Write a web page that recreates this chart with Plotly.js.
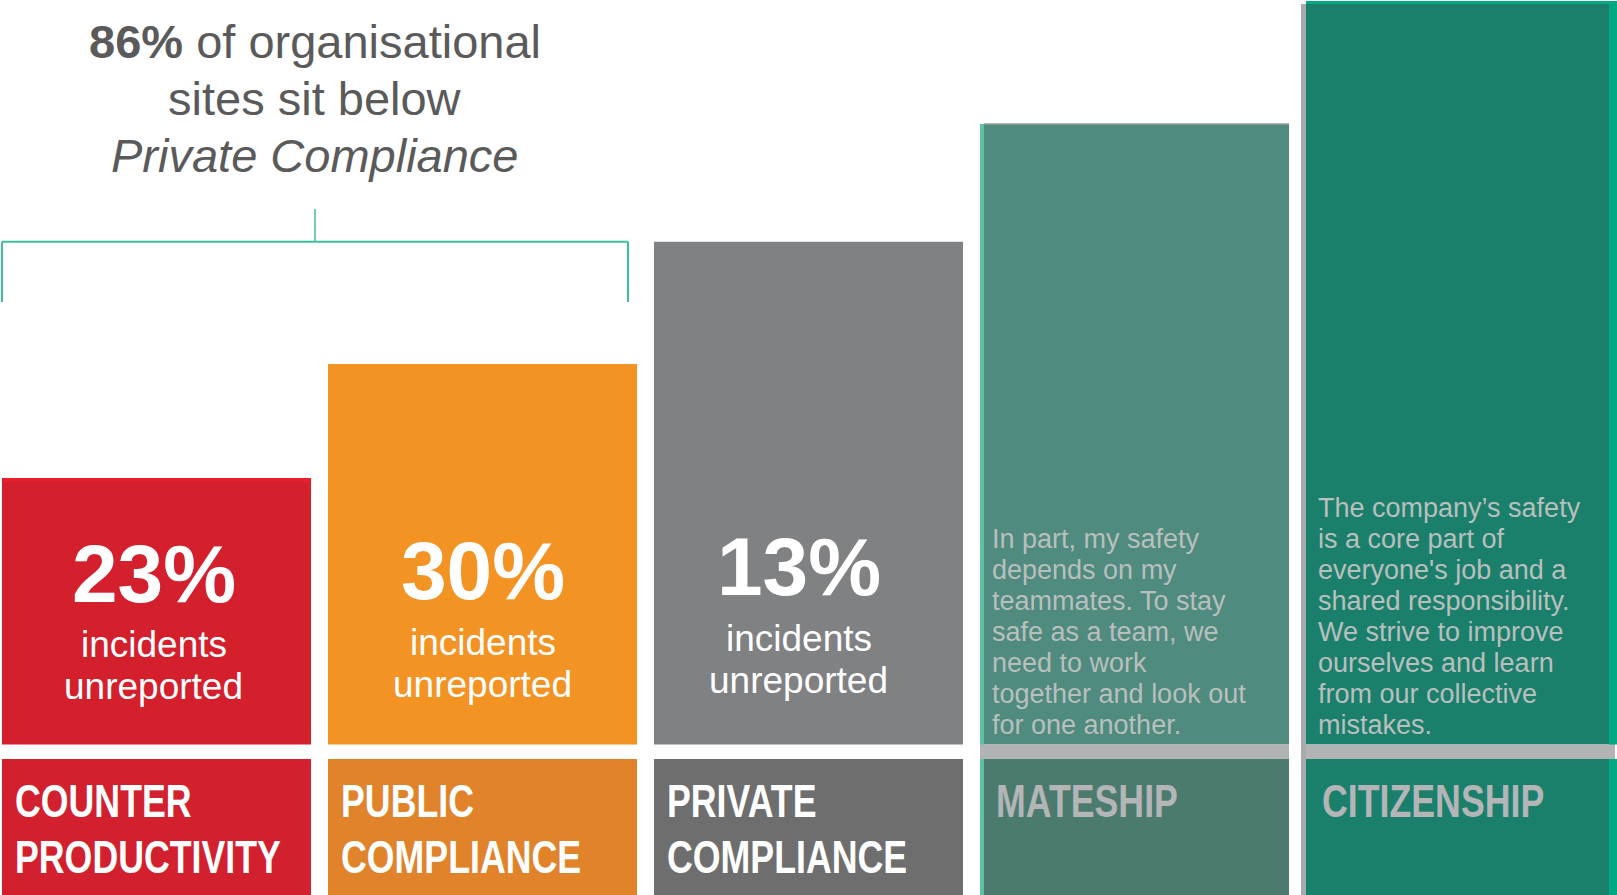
<!DOCTYPE html>
<html>
<head>
<meta charset="utf-8">
<script src="https://cdn.plot.ly/plotly-3.0.1.min.js"></script>
<style>
  html, body { margin: 0; padding: 0; background: #ffffff; }
  #chart { width: 1617px; height: 895px; }
</style>
</head>
<body>
<div id="chart"></div>
<script>
// ---------------- DATA ----------------
const CATEGORIES = ['COUNTER PRODUCTIVITY', 'PUBLIC COMPLIANCE', 'PRIVATE COMPLIANCE', 'MATESHIP', 'CITIZENSHIP'];
const LABEL_LINES = [['COUNTER', 'PRODUCTIVITY'], ['PUBLIC', 'COMPLIANCE'], ['PRIVATE', 'COMPLIANCE'], ['MATESHIP'], ['CITIZENSHIP']];
const LEVEL_HEIGHTS = [36.0, 51.4, 67.9, 83.8, 100];
const UNREPORTED_PCT = [23, 30, 13, null, null];
const UNREPORTED_CAPTION = ['incidents', 'unreported'];
const MATESHIP_TEXT = ['In part, my safety', 'depends on my', 'teammates. To stay', 'safe as a team, we', 'need to work', 'together and look out', 'for one another.'];
const CITIZENSHIP_TEXT = ['The company\u2019s safety', 'is a core part of', "everyone's job and a", 'shared responsibility.', 'We strive to improve', 'ourselves and learn', 'from our collective', 'mistakes.'];
const HEADLINE_PCT = 86;
const HEADLINE_LINES = [' of organisational', 'sites sit below', 'Private Compliance'];

// ---------------- STYLE ----------------
const TOP_COLORS = ['#d41f2d', '#f39323', '#7f8183', '#4f8b7e', '#1b806b'];
const LABEL_COLORS = ['#d2202e', '#e0832a', '#6e6e6e', '#4a7b6e', '#1b806b'];
const LABEL_TEXT_COLORS = ['#ffffff', '#ffffff', '#ffffff', '#b3b5b6', '#b3b5b6'];
const BAND_COLOR = '#b1b3b4';
const TEAL = '#3dbf9f';
const FONT = 'Liberation Sans, Arial, Helvetica, sans-serif';
const CONDENSE = 0.76;

const W = 1617, H = 895;
const PX_PER_X = 326, X0_PX = 156.5;        // category spacing
const PX_PER_Y = 7.406, Y0_PX = 744.6;      // value scale
const xAt = px => (px - X0_PX) / PX_PER_X;
const yAt = px => (Y0_PX - px) / PX_PER_Y;
const BAR_W = 0.948;
const HALF = BAR_W / 2;
const LABEL_TOP = yAt(759);
const LABEL_BOTTOM = yAt(H + 20);

const traces = [
  { type: 'bar', x: CATEGORIES, y: LEVEL_HEIGHTS, base: 0, width: BAR_W,
    marker: { color: TOP_COLORS, line: { width: 0 } }, hoverinfo: 'skip' },
  { type: 'bar', x: CATEGORIES.slice(3), y: CATEGORIES.slice(3).map(() => LABEL_TOP), base: 0, width: BAR_W,
    marker: { color: BAND_COLOR, line: { width: 0 } }, hoverinfo: 'skip' },
  { type: 'bar', x: CATEGORIES, y: CATEGORIES.map(() => LABEL_BOTTOM - LABEL_TOP), base: LABEL_TOP, width: BAR_W,
    marker: { color: LABEL_COLORS, line: { width: 0 } }, hoverinfo: 'skip' }
];

const ann = [];
// headline
ann.push({ x: xAt(315), y: yAt(41.5), xref: 'x', yref: 'y', showarrow: false, xanchor: 'center', yanchor: 'middle',
  text: '<b>' + HEADLINE_PCT + '%</b>' + HEADLINE_LINES[0], font: { family: FONT, size: 47, color: '#5a5a5a' } });
ann.push({ x: xAt(315), y: yAt(98.5), xref: 'x', yref: 'y', showarrow: false, xanchor: 'center', yanchor: 'middle',
  text: HEADLINE_LINES[1], font: { family: FONT, size: 47, color: '#5a5a5a' } });
ann.push({ x: xAt(315), y: yAt(155.5), xref: 'x', yref: 'y', showarrow: false, xanchor: 'center', yanchor: 'middle',
  text: '<i>' + HEADLINE_LINES[2] + '</i>', font: { family: FONT, size: 47, color: '#5a5a5a' } });

// percentages
const PCT_Y = [573, 570, 566];
const CAP_Y = [[644, 686], [642, 684], [638, 680]];
const TEXT_SHIFT = [-3, 0, -10];
UNREPORTED_PCT.forEach((v, i) => {
  if (v === null) return;
  ann.push({ x: i, y: yAt(PCT_Y[i]), xref: 'x', yref: 'y', showarrow: false, xanchor: 'center', yanchor: 'middle', xshift: TEXT_SHIFT[i],
    text: v + '%', font: { family: FONT, size: 82, color: '#ffffff', weight: 700 } });
  UNREPORTED_CAPTION.forEach((t, j) => {
    ann.push({ x: i, y: yAt(CAP_Y[i][j]), xref: 'x', yref: 'y', showarrow: false, xanchor: 'center', yanchor: 'middle', xshift: TEXT_SHIFT[i],
      text: t, font: { family: FONT, size: 37, color: '#ffffff' } });
  });
});

// bottom labels (condensed after render)
const LABEL_Y = [800.5, 856];
const CONDENSED_IDX = [];
LABEL_LINES.forEach((lines, i) => {
  lines.forEach((t, j) => {
    CONDENSED_IDX.push(ann.length);
    ann.push({ x: i - HALF + 11 / PX_PER_X + (i >= 3 ? 3 / PX_PER_X : 0), y: yAt(LABEL_Y[j]), xref: 'x', yref: 'y', showarrow: false,
      xanchor: 'left', yanchor: 'middle', align: 'left', text: t,
      font: { family: FONT, size: 47, color: LABEL_TEXT_COLORS[i], weight: 700 } });
  });
});

// descriptions
const PARA_COLOR = '#b9bfbd';
const MATE_Y0 = 539, CIT_Y0 = 508, LINE_H = 31;
MATESHIP_TEXT.forEach((t, j) => {
  ann.push({ x: 3 - HALF + 10 / PX_PER_X, y: yAt(MATE_Y0 + j * LINE_H), xref: 'x', yref: 'y', showarrow: false,
    xanchor: 'left', yanchor: 'middle', text: t, font: { family: FONT, size: 27, color: PARA_COLOR } });
});
CITIZENSHIP_TEXT.forEach((t, j) => {
  ann.push({ x: 4 - HALF + 10 / PX_PER_X, y: yAt(CIT_Y0 + j * LINE_H), xref: 'x', yref: 'y', showarrow: false,
    xanchor: 'left', yanchor: 'middle', text: t, font: { family: FONT, size: 27, color: PARA_COLOR } });
});

// decorative shapes: bracket and edges
const bracketY = LEVEL_HEIGHTS[2];
const bl = xAt(2), br = xAt(628), bm = xAt(315);
const shapes = [
  { type: 'line', xref: 'x', yref: 'y', x0: bl, x1: br, y0: bracketY, y1: bracketY, line: { color: TEAL, width: 2 } },
  { type: 'line', xref: 'x', yref: 'y', x0: bl, x1: bl, y0: bracketY, y1: yAt(302), line: { color: TEAL, width: 2 } },
  { type: 'line', xref: 'x', yref: 'y', x0: br, x1: br, y0: bracketY, y1: yAt(302), line: { color: TEAL, width: 2 } },
  { type: 'line', xref: 'x', yref: 'y', x0: bm, x1: bm, y0: bracketY, y1: yAt(209), line: { color: TEAL, width: 1.5 } },
  { type: 'rect', xref: 'x', yref: 'y', x0: -HALF, x1: HALF, y0: LEVEL_HEIGHTS[0] - 4 / PX_PER_Y, y1: LEVEL_HEIGHTS[0], fillcolor: '#e8202a', line: { width: 0 } },
  { type: 'rect', xref: 'x', yref: 'y', x0: 3 - HALF, x1: 3 - HALF + 4 / PX_PER_X, y0: 0, y1: LEVEL_HEIGHTS[3], fillcolor: '#5cc3a3', line: { width: 0 } },
  { type: 'rect', xref: 'x', yref: 'y', x0: 3 - HALF, x1: 3 - HALF + 4 / PX_PER_X, y0: LABEL_BOTTOM, y1: LABEL_TOP, fillcolor: '#5cc3a3', line: { width: 0 } },
  { type: 'line', xref: 'x', yref: 'y', x0: 3 - HALF + 4 / PX_PER_X, x1: 3 + HALF, y0: LEVEL_HEIGHTS[3], y1: LEVEL_HEIGHTS[3], line: { color: '#9a9c9c', width: 1.5 } },
  { type: 'rect', xref: 'x', yref: 'y', x0: 4 - HALF - 5 / PX_PER_X, x1: 4 - HALF, y0: LABEL_BOTTOM, y1: LEVEL_HEIGHTS[4], fillcolor: '#a7a9aa', line: { width: 0 } },
  { type: 'rect', xref: 'x', yref: 'y', x0: 4 - HALF, x1: 4 + HALF + 4 / PX_PER_X, y0: LEVEL_HEIGHTS[4], y1: LEVEL_HEIGHTS[4] + 3 / PX_PER_Y, fillcolor: '#00a884', line: { width: 0 } },
  { type: 'rect', xref: 'x', yref: 'y', x0: 4 + HALF - 6 / PX_PER_X, x1: 4 + HALF + 4 / PX_PER_X, y0: 0, y1: LEVEL_HEIGHTS[4] + 3 / PX_PER_Y, fillcolor: '#00a884', line: { width: 0 } },
  { type: 'rect', xref: 'x', yref: 'y', x0: 4 + HALF - 6 / PX_PER_X, x1: 4 + HALF + 4 / PX_PER_X, y0: LABEL_BOTTOM, y1: LABEL_TOP, fillcolor: '#00a884', line: { width: 0 } }
];

const layout = {
  width: W, height: H,
  margin: { l: 0, r: 0, t: 0, b: 0, pad: 0 },
  paper_bgcolor: '#ffffff', plot_bgcolor: '#ffffff',
  showlegend: false,
  barmode: 'overlay',
  xaxis: { type: 'category', range: [xAt(0), xAt(W)], visible: false, fixedrange: true },
  yaxis: { range: [yAt(H), yAt(0)], visible: false, fixedrange: true },
  annotations: ann,
  shapes: shapes
};

function condenseLabels() {
  CONDENSED_IDX.forEach(idx => {
    const t = document.querySelector('.annotation[data-index="' + idx + '"] text.annotation-text');
    if (!t) return;
    const w = t.getComputedTextLength();
    t.setAttribute('lengthAdjust', 'spacingAndGlyphs');
    t.setAttribute('textLength', (w * CONDENSE).toFixed(1));
  });
}

Plotly.newPlot('chart', traces, layout, { displayModeBar: false, staticPlot: true }).then(condenseLabels);
</script>
</body>
</html>
